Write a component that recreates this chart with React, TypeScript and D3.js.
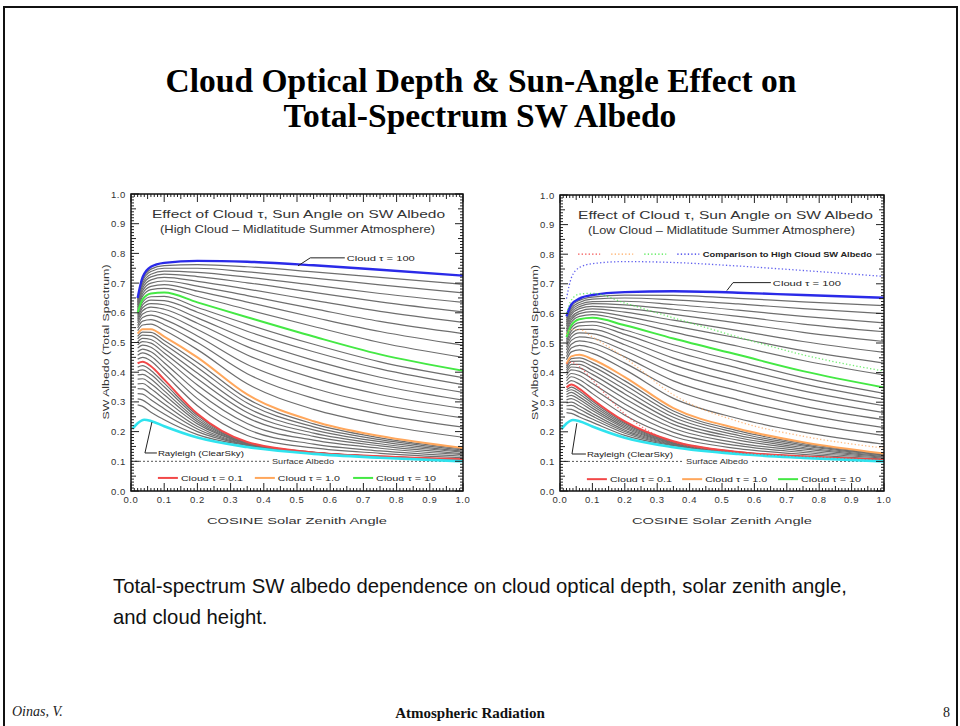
import React, {useEffect, useRef} from 'react';
import * as d3 from 'd3';

const MU = [0.02, 0.035, 0.06, 0.1, 0.2, 0.35, 0.55, 0.75, 1.0];

// cloud optical depths, one curve each
const TAU = [
    0.01, 0.02, 0.03, 0.04, 0.05, 0.06, 0.07, 0.08, 0.09,
    0.1, 0.2, 0.3, 0.4, 0.5, 0.6, 0.7, 0.8, 0.9,
    1, 2, 3, 4, 5, 6, 7, 8, 9,
    10, 20, 30, 40, 50, 60, 70, 80, 90, 100
];

// SW albedo, high cloud (left panel), rows follow TAU, columns follow MU
const HIGH_CLOUD = [
    [0.290, 0.285, 0.265, 0.240, 0.190, 0.153, 0.128, 0.114, 0.102],
    [0.310, 0.306, 0.287, 0.259, 0.200, 0.155, 0.128, 0.114, 0.103],
    [0.328, 0.326, 0.307, 0.277, 0.209, 0.156, 0.129, 0.115, 0.103],
    [0.345, 0.344, 0.326, 0.293, 0.217, 0.158, 0.129, 0.115, 0.104],
    [0.361, 0.362, 0.344, 0.309, 0.226, 0.159, 0.129, 0.116, 0.105],
    [0.377, 0.378, 0.361, 0.324, 0.233, 0.160, 0.129, 0.116, 0.105],
    [0.391, 0.393, 0.377, 0.337, 0.240, 0.162, 0.129, 0.116, 0.106],
    [0.405, 0.408, 0.392, 0.351, 0.247, 0.163, 0.130, 0.116, 0.106],
    [0.417, 0.422, 0.406, 0.363, 0.254, 0.164, 0.130, 0.117, 0.107],
    [0.430, 0.435, 0.420, 0.375, 0.260, 0.165, 0.130, 0.117, 0.107],
    [0.444, 0.450, 0.438, 0.395, 0.287, 0.187, 0.145, 0.127, 0.112],
    [0.457, 0.465, 0.454, 0.414, 0.311, 0.208, 0.158, 0.135, 0.117],
    [0.469, 0.478, 0.469, 0.432, 0.334, 0.227, 0.171, 0.144, 0.122],
    [0.481, 0.491, 0.484, 0.449, 0.357, 0.247, 0.184, 0.152, 0.126],
    [0.492, 0.503, 0.498, 0.465, 0.378, 0.264, 0.195, 0.159, 0.131],
    [0.502, 0.514, 0.510, 0.479, 0.397, 0.280, 0.206, 0.166, 0.134],
    [0.512, 0.525, 0.523, 0.494, 0.416, 0.296, 0.216, 0.173, 0.138],
    [0.521, 0.535, 0.534, 0.507, 0.433, 0.311, 0.226, 0.179, 0.142],
    [0.530, 0.545, 0.545, 0.520, 0.450, 0.325, 0.235, 0.185, 0.145],
    [0.540, 0.559, 0.562, 0.541, 0.476, 0.361, 0.275, 0.224, 0.181],
    [0.549, 0.572, 0.577, 0.560, 0.500, 0.395, 0.312, 0.259, 0.215],
    [0.557, 0.584, 0.592, 0.578, 0.522, 0.426, 0.346, 0.292, 0.246],
    [0.566, 0.596, 0.606, 0.596, 0.544, 0.458, 0.380, 0.325, 0.278],
    [0.573, 0.607, 0.619, 0.612, 0.565, 0.486, 0.412, 0.356, 0.306],
    [0.580, 0.617, 0.631, 0.627, 0.583, 0.512, 0.440, 0.383, 0.332],
    [0.587, 0.627, 0.643, 0.641, 0.602, 0.538, 0.469, 0.411, 0.358],
    [0.594, 0.636, 0.654, 0.655, 0.618, 0.562, 0.494, 0.435, 0.382],
    [0.600, 0.645, 0.665, 0.668, 0.635, 0.585, 0.520, 0.460, 0.405],
    [0.607, 0.656, 0.678, 0.682, 0.655, 0.611, 0.554, 0.500, 0.450],
    [0.614, 0.665, 0.689, 0.695, 0.673, 0.636, 0.585, 0.537, 0.491],
    [0.620, 0.674, 0.700, 0.707, 0.690, 0.658, 0.614, 0.571, 0.530],
    [0.626, 0.683, 0.711, 0.719, 0.706, 0.680, 0.642, 0.605, 0.568],
    [0.631, 0.692, 0.721, 0.730, 0.722, 0.701, 0.669, 0.637, 0.603],
    [0.636, 0.699, 0.730, 0.740, 0.736, 0.720, 0.693, 0.665, 0.635],
    [0.641, 0.707, 0.739, 0.750, 0.750, 0.738, 0.717, 0.694, 0.667],
    [0.646, 0.713, 0.747, 0.759, 0.762, 0.755, 0.738, 0.719, 0.696],
    [0.650, 0.720, 0.755, 0.768, 0.775, 0.772, 0.760, 0.745, 0.725]
];

// SW albedo, low cloud (right panel)
const LOW_CLOUD = [
    [0.265, 0.262, 0.250, 0.232, 0.188, 0.153, 0.128, 0.114, 0.102],
    [0.277, 0.276, 0.263, 0.243, 0.195, 0.155, 0.129, 0.114, 0.102],
    [0.288, 0.289, 0.276, 0.253, 0.201, 0.157, 0.129, 0.115, 0.103],
    [0.298, 0.300, 0.287, 0.262, 0.206, 0.159, 0.130, 0.115, 0.103],
    [0.308, 0.312, 0.299, 0.272, 0.212, 0.161, 0.130, 0.116, 0.104],
    [0.318, 0.323, 0.309, 0.280, 0.217, 0.162, 0.130, 0.116, 0.104],
    [0.326, 0.333, 0.318, 0.288, 0.222, 0.164, 0.131, 0.116, 0.104],
    [0.335, 0.342, 0.328, 0.296, 0.227, 0.165, 0.131, 0.116, 0.105],
    [0.342, 0.351, 0.337, 0.303, 0.231, 0.167, 0.132, 0.117, 0.105],
    [0.350, 0.360, 0.345, 0.310, 0.235, 0.168, 0.132, 0.117, 0.105],
    [0.361, 0.373, 0.361, 0.329, 0.256, 0.184, 0.143, 0.124, 0.108],
    [0.372, 0.386, 0.376, 0.347, 0.276, 0.198, 0.153, 0.130, 0.111],
    [0.381, 0.397, 0.390, 0.363, 0.294, 0.212, 0.162, 0.136, 0.114],
    [0.391, 0.409, 0.404, 0.379, 0.312, 0.225, 0.172, 0.142, 0.116],
    [0.400, 0.419, 0.416, 0.394, 0.328, 0.237, 0.180, 0.147, 0.119],
    [0.408, 0.428, 0.428, 0.407, 0.343, 0.249, 0.188, 0.152, 0.121],
    [0.416, 0.438, 0.439, 0.421, 0.358, 0.260, 0.196, 0.156, 0.123],
    [0.423, 0.447, 0.450, 0.433, 0.372, 0.270, 0.203, 0.161, 0.125],
    [0.430, 0.455, 0.460, 0.445, 0.385, 0.280, 0.210, 0.165, 0.127],
    [0.443, 0.470, 0.477, 0.465, 0.410, 0.313, 0.245, 0.199, 0.158],
    [0.454, 0.483, 0.492, 0.483, 0.432, 0.344, 0.278, 0.230, 0.187],
    [0.465, 0.496, 0.507, 0.500, 0.453, 0.372, 0.308, 0.259, 0.214],
    [0.476, 0.509, 0.521, 0.516, 0.474, 0.400, 0.338, 0.287, 0.241],
    [0.486, 0.520, 0.534, 0.532, 0.494, 0.426, 0.365, 0.314, 0.265],
    [0.495, 0.531, 0.546, 0.546, 0.511, 0.449, 0.390, 0.338, 0.288],
    [0.504, 0.541, 0.558, 0.560, 0.529, 0.473, 0.415, 0.362, 0.310],
    [0.512, 0.551, 0.569, 0.572, 0.544, 0.494, 0.438, 0.383, 0.330],
    [0.520, 0.560, 0.580, 0.585, 0.560, 0.515, 0.460, 0.405, 0.350],
    [0.530, 0.570, 0.590, 0.596, 0.576, 0.537, 0.489, 0.441, 0.392],
    [0.539, 0.579, 0.599, 0.606, 0.590, 0.558, 0.517, 0.474, 0.432],
    [0.547, 0.587, 0.607, 0.615, 0.604, 0.577, 0.542, 0.505, 0.468],
    [0.556, 0.596, 0.616, 0.624, 0.617, 0.597, 0.567, 0.536, 0.505],
    [0.563, 0.603, 0.623, 0.633, 0.629, 0.614, 0.590, 0.564, 0.538],
    [0.570, 0.610, 0.630, 0.640, 0.641, 0.630, 0.611, 0.590, 0.568],
    [0.577, 0.617, 0.637, 0.648, 0.652, 0.646, 0.632, 0.616, 0.599],
    [0.584, 0.624, 0.644, 0.655, 0.662, 0.661, 0.651, 0.639, 0.626],
    [0.590, 0.630, 0.650, 0.662, 0.672, 0.675, 0.670, 0.662, 0.653]
];

// clear-sky (Rayleigh) curve
const RAYLEIGH_MU = [0.005, 0.02, 0.04, 0.06, 0.1, 0.2, 0.35, 0.55, 0.75, 1.0];
const RAYLEIGH = [0.210, 0.228, 0.240, 0.236, 0.218, 0.180, 0.148, 0.125, 0.112, 0.100];

const SURFACE_ALBEDO = 0.1;

const HIGHLIGHTS = [
    {tau: 0.1, color: '#f24848', label: 'Cloud \u03C4 = 0.1'},
    {tau: 1, color: '#ffa75c', label: 'Cloud \u03C4 = 1.0'},
    {tau: 10, color: '#44e844', label: 'Cloud \u03C4 = 10'},
    {tau: 100, color: '#2a2ae8', label: 'Cloud \u03C4 = 100'}
];
const RAYLEIGH_COLOR = '#2fe3ee';

const TICK_LABELS = ['0.0', '0.1', '0.2', '0.3', '0.4', '0.5', '0.6', '0.7', '0.8', '0.9', '1.0'];

const PANELS = [
    {
        left: 131, right: 463, top: 194, bottom: 491,
        data: HIGH_CLOUD,
        head: ['Effect of Cloud \u03C4, Sun Angle on SW Albedo', '(High Cloud \u2013 Midlatitude Summer Atmosphere)'],
        headX: [21, 29], headLen: [293, 275],
        surfaceMu: 0.518,
        tauLabel: {mu: 0.65, a: 0.785, from: [0.54, 0.785], to: [0.503, 0.758]},
        rayLabel: {mu: 0.081, a: 0.128, corner: [0.042, 0.128], to: [0.063, 0.232]},
        legendMu: [0.081, 0.373, 0.669], legendA: 0.044,
        comparison: false
    },
    {
        left: 560, right: 884, top: 195, bottom: 491,
        data: LOW_CLOUD,
        head: ['Effect of Cloud \u03C4, Sun Angle on SW Albedo', '(Low Cloud \u2013 Midlatitude Summer Atmosphere)'],
        headX: [18, 28], headLen: [295, 267],
        surfaceMu: 0.485,
        tauLabel: {mu: 0.657, a: 0.704, from: [0.534, 0.704], to: [0.515, 0.677]},
        rayLabel: {mu: 0.083, a: 0.125, corner: [0.037, 0.125], to: [0.052, 0.229]},
        legendMu: [0.083, 0.377, 0.673], legendA: 0.040,
        comparison: true
    }
];

const PLOT_FONT = "'Liberation Sans', Arial, sans-serif";
const SERIF = "'Liberation Serif', 'Times New Roman', serif";

function drawPanel(svg, p) {
    const x = d3.scaleLinear().domain([0, 1]).range([p.left, p.right]);
    const y = d3.scaleLinear().domain([0, 1]).range([p.bottom, p.top]);
    const g = svg.append('g');
    const clipId = `clip-${p.left}`;
    g.append('clipPath').attr('id', clipId)
        .append('rect').attr('x', p.left).attr('y', p.top)
        .attr('width', p.right - p.left).attr('height', p.bottom - p.top);
    const plot = g.append('g').attr('clip-path', `url(#${clipId})`);

    // surface albedo reference line
    plot.append('line')
        .attr('x1', x(0)).attr('x2', x(1))
        .attr('y1', y(SURFACE_ALBEDO)).attr('y2', y(SURFACE_ALBEDO))
        .attr('stroke', '#555').attr('stroke-width', 1).attr('stroke-dasharray', '2,2');
    plot.append('rect')
        .attr('x', x(p.surfaceMu) - 34).attr('y', y(SURFACE_ALBEDO) - 5)
        .attr('width', 68).attr('height', 10).attr('fill', '#fff');
    plot.append('text')
        .attr('x', x(p.surfaceMu) - 31).attr('y', y(SURFACE_ALBEDO) + 3)
        .attr('textLength', 62).attr('lengthAdjust', 'spacingAndGlyphs')
        .attr('font-size', 8).attr('fill', '#333').attr('font-family', PLOT_FONT)
        .text('Surface Albedo');

    const line = d3.line().x((d, j) => x(MU[j])).y(d => y(d)).curve(d3.curveMonotoneX);
    const hiTaus = HIGHLIGHTS.map(h => h.tau);

    // the full family of optical depths in grey
    plot.append('g').selectAll('path')
        .data(p.data.filter((row, i) => !hiTaus.includes(TAU[i])))
        .join('path')
        .attr('d', d => line(d))
        .attr('fill', 'none').attr('stroke', '#6e6e6e').attr('stroke-width', 1.2);

    // highlighted depths
    HIGHLIGHTS.forEach(h => {
        const row = p.data[TAU.indexOf(h.tau)];
        plot.append('path').attr('d', line(row))
            .attr('fill', 'none').attr('stroke', h.color)
            .attr('stroke-width', h.tau === 100 ? 2.4 : 2);
    });

    const rayLine = d3.line().x((d, j) => x(RAYLEIGH_MU[j])).y(d => y(d)).curve(d3.curveMonotoneX);
    plot.append('path').attr('d', rayLine(RAYLEIGH))
        .attr('fill', 'none').attr('stroke', RAYLEIGH_COLOR).attr('stroke-width', 2.6);

    // high cloud curves repeated as dotted lines for comparison
    if (p.comparison) {
        HIGHLIGHTS.forEach(h => {
            const row = HIGH_CLOUD[TAU.indexOf(h.tau)];
            plot.append('path').attr('d', line(row))
                .attr('fill', 'none').attr('stroke', h.color).attr('stroke-opacity', 0.75)
                .attr('stroke-width', 1.3).attr('stroke-dasharray', '1.3,2.2');
        });
        const ly = y(0.80);
        HIGHLIGHTS.forEach((h, i) => {
            const x0 = x(0.056 + i * 0.102);
            g.append('line').attr('x1', x0).attr('x2', x0 + 22).attr('y1', ly).attr('y2', ly)
                .attr('stroke', h.color).attr('stroke-width', 1.3).attr('stroke-dasharray', '1.3,2.2');
        });
        g.append('text').attr('x', x(0.441)).attr('y', ly + 3)
            .attr('textLength', 169).attr('lengthAdjust', 'spacingAndGlyphs')
            .attr('font-size', 8).attr('font-weight', 'bold').attr('fill', '#222').attr('font-family', PLOT_FONT)
            .text('Comparison to High Cloud SW Albedo');
    }

    // header text
    p.head.forEach((t, i) => {
        g.append('text').attr('x', p.left + p.headX[i]).attr('y', p.top + 24 + i * 15)
            .attr('textLength', p.headLen[i]).attr('lengthAdjust', 'spacingAndGlyphs')
            .attr('font-size', 10.5).attr('fill', '#333').attr('font-family', PLOT_FONT)
            .text(t);
    });

    // tau = 100 annotation
    const tl = p.tauLabel;
    g.append('polyline')
        .attr('points', [[x(tl.mu) - 2, y(tl.a)], [x(tl.from[0]), y(tl.from[1])], [x(tl.to[0]), y(tl.to[1])]].map(d => d.join(',')).join(' '))
        .attr('fill', 'none').attr('stroke', '#222').attr('stroke-width', 1);
    g.append('text').attr('x', x(tl.mu)).attr('y', y(tl.a) + 3)
        .attr('textLength', 68).attr('lengthAdjust', 'spacingAndGlyphs')
        .attr('font-size', 8).attr('fill', '#222').attr('font-family', PLOT_FONT)
        .text(HIGHLIGHTS[3].label);

    // Rayleigh annotation
    const rl = p.rayLabel;
    g.append('polyline')
        .attr('points', [[x(rl.mu) - 1, y(rl.a)], [x(rl.corner[0]), y(rl.corner[1])], [x(rl.to[0]), y(rl.to[1])]].map(d => d.join(',')).join(' '))
        .attr('fill', 'none').attr('stroke', '#222').attr('stroke-width', 1);
    g.append('text').attr('x', x(rl.mu)).attr('y', y(rl.a) + 3)
        .attr('textLength', 86).attr('lengthAdjust', 'spacingAndGlyphs')
        .attr('font-size', 8).attr('fill', '#222').attr('font-family', PLOT_FONT)
        .text('Rayleigh (ClearSky)');

    // legend
    HIGHLIGHTS.slice(0, 3).forEach((h, i) => {
        const lx = x(p.legendMu[i]);
        const ly = y(p.legendA);
        g.append('line').attr('x1', lx).attr('x2', lx + 20).attr('y1', ly).attr('y2', ly)
            .attr('stroke', h.color).attr('stroke-width', 2);
        g.append('text').attr('x', lx + 23).attr('y', ly + 3)
            .attr('textLength', i === 2 ? 60 : 62).attr('lengthAdjust', 'spacingAndGlyphs')
            .attr('font-size', 8).attr('fill', '#222').attr('font-family', PLOT_FONT)
            .text(h.label);
    });

    // ticks on all four sides, pointing in
    const tickLen = v => {
        const k = Math.round(v * 100);
        return k % 10 === 0 ? 8 : (k % 5 === 0 ? 5 : 3);
    };
    const ticks = g.append('g').attr('stroke', '#222').attr('stroke-width', 1);
    x.ticks(100).forEach(v => {
        const L = tickLen(v);
        ticks.append('line').attr('x1', x(v)).attr('x2', x(v)).attr('y1', p.bottom).attr('y2', p.bottom - L);
        ticks.append('line').attr('x1', x(v)).attr('x2', x(v)).attr('y1', p.top).attr('y2', p.top + L);
    });
    y.ticks(100).forEach(v => {
        const L = tickLen(v);
        ticks.append('line').attr('y1', y(v)).attr('y2', y(v)).attr('x1', p.left).attr('x2', p.left + L);
        ticks.append('line').attr('y1', y(v)).attr('y2', y(v)).attr('x1', p.right).attr('x2', p.right - L);
    });

    g.append('rect').attr('x', p.left).attr('y', p.top)
        .attr('width', p.right - p.left).attr('height', p.bottom - p.top)
        .attr('fill', 'none').attr('stroke', '#111').attr('stroke-width', 1.5);

    // tick labels
    const labels = g.append('g').attr('font-size', 9.5).attr('fill', '#333')
        .attr('font-family', PLOT_FONT).attr('letter-spacing', 0.6);
    x.ticks(10).forEach((v, i) => {
        labels.append('text').attr('x', x(v)).attr('y', p.bottom + 12)
            .attr('text-anchor', 'middle').text(TICK_LABELS[i]);
    });
    y.ticks(10).forEach((v, i) => {
        labels.append('text').attr('x', p.left - 5).attr('y', y(v) + 3.5)
            .attr('text-anchor', 'end').text(TICK_LABELS[i]);
    });

    // axis titles
    const midX = (p.left + p.right) / 2;
    const midY = (p.top + p.bottom) / 2;
    g.append('text').attr('x', midX - 90).attr('y', p.bottom + 33)
        .attr('textLength', 180).attr('lengthAdjust', 'spacingAndGlyphs')
        .attr('font-size', 9.5).attr('fill', '#333').attr('font-family', PLOT_FONT)
        .text('COSINE Solar Zenith Angle');
    g.append('text')
        .attr('transform', `translate(${p.left - 22},${midY + 77}) rotate(-90)`)
        .attr('textLength', 155).attr('lengthAdjust', 'spacingAndGlyphs')
        .attr('font-size', 9).attr('fill', '#333').attr('font-family', PLOT_FONT)
        .text('SW Albedo (Total Spectrum)');
}

const App = () => {
    const svgRef = useRef(null);

    useEffect(() => {
        const svg = d3.select(svgRef.current);
        svg.selectAll('*').remove();

        svg.append('rect').attr('width', 960).attr('height', 726).attr('fill', '#fff');

        // slide frame (open at the bottom)
        svg.append('path')
            .attr('d', 'M4,730 L4,7 L957,7 L957,730')
            .attr('fill', 'none').attr('stroke', '#111').attr('stroke-width', 2);

        // slide title
        const title = svg.append('g').attr('font-family', SERIF).attr('font-weight', 'bold')
            .attr('font-size', 33.5).attr('text-anchor', 'middle').attr('fill', '#000');
        title.append('text').attr('x', 481).attr('y', 92).text('Cloud Optical Depth & Sun-Angle Effect on');
        title.append('text').attr('x', 480).attr('y', 127).text('Total-Spectrum SW Albedo');

        PANELS.forEach(p => drawPanel(svg, p));

        // caption
        const cap = svg.append('g').attr('font-family', PLOT_FONT).attr('font-size', 20.3).attr('fill', '#111');
        cap.append('text').attr('x', 113).attr('y', 593)
            .text('Total-spectrum SW albedo dependence on cloud optical depth, solar zenith angle,');
        cap.append('text').attr('x', 113).attr('y', 624).text('and cloud height.');

        // footer
        svg.append('text').attr('x', 12).attr('y', 716).attr('font-family', SERIF)
            .attr('font-style', 'italic').attr('font-size', 14).attr('fill', '#222').text('Oinas, V.');
        svg.append('text').attr('x', 470).attr('y', 718).attr('font-family', SERIF)
            .attr('font-weight', 'bold').attr('font-size', 15).attr('text-anchor', 'middle')
            .attr('fill', '#111').text('Atmospheric Radiation');
        svg.append('text').attr('x', 950).attr('y', 717).attr('font-family', SERIF)
            .attr('font-size', 14).attr('text-anchor', 'end').attr('fill', '#222').text('8');
    }, []);

    return (
        <svg ref={svgRef} width={960} height={726}
             style={{position: 'absolute', left: 0, top: 0, display: 'block'}}/>
    );
};

export default App;
